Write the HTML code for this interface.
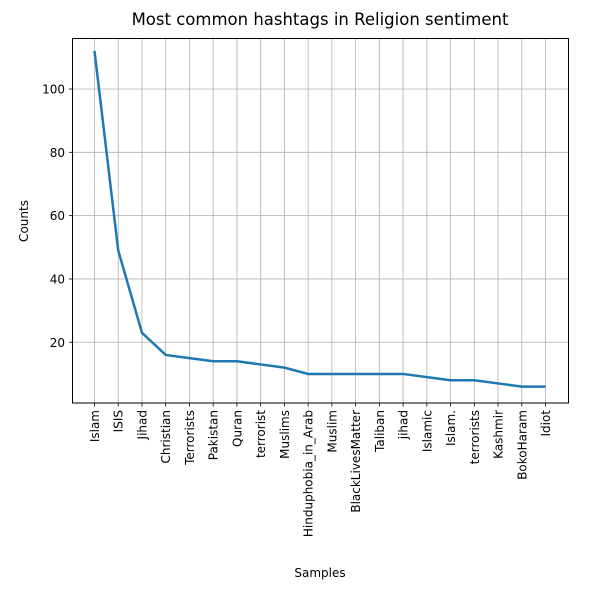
<!DOCTYPE html>
<html><head><meta charset="utf-8"><style>
body{margin:0;background:#fff;width:605px;height:585px;overflow:hidden}
text{font-family:"DejaVu Sans","Liberation Sans",sans-serif;fill:#000}
</style></head><body>
<svg id="chart" width="605" height="585">
<text x="320" y="25" font-size="16.5" text-anchor="middle">Most common hashtags in Religion sentiment</text>
<g id="grid"></g>
<g id="ticks"></g>
<polyline id="line" fill="none" stroke="#1f77b4" stroke-width="2.5"/>
<rect x="72.5" y="38.5" width="496" height="364.5" fill="none" stroke="#000" stroke-width="1"/>
<text x="320" y="577" font-size="12" text-anchor="middle">Samples</text>
<text transform="translate(28,221) rotate(-90)" font-size="12" text-anchor="middle">Counts</text>
</svg>
<script>
const categories=["Islam","ISIS","Jihad","Christian","Terrorists","Pakistan","Quran","terrorist","Muslims","Hinduphobia_in_Arab","Muslim","BlackLivesMatter","Taliban","jihad","Islamic","Islam.","terrorists","Kashmir","BokoHaram","Idiot"];
const counts=[112,49,23,16,15,14,14,13,12,10,10,10,10,10,9,8,8,7,6,6];
const yTicks=[20,40,60,80,100];
const NS="http://www.w3.org/2000/svg";
const x=i=>94.5+i*(545.5-94.5)/(categories.length-1);
const y=v=>405.6-v*3.166;
const grid=document.getElementById('grid'),ticks=document.getElementById('ticks');
function mk(t,a,p){const e=document.createElementNS(NS,t);for(const k in a)e.setAttribute(k,a[k]);p.appendChild(e);return e;}
categories.forEach((c,i)=>{
 const g=mk('line',{x1:x(i),x2:x(i),y1:38.5,y2:403,stroke:'#b0b0b0','stroke-width':0.8},grid);
 
 
 const t=mk('line',{x1:x(i),x2:x(i),y1:403,y2:406.5,stroke:'#000','stroke-width':0.8},ticks);
 
 
 const l=mk('text',{transform:`translate(${x(i)+4.5},410) rotate(-90)`,'font-size':12,'text-anchor':'end'},ticks);
 l.textContent=c;
 
 
});
yTicks.forEach(v=>{
 const g=mk('line',{x1:72.5,x2:568.5,y1:y(v),y2:y(v),stroke:'#b0b0b0','stroke-width':0.8},grid);
 
 
 const t=mk('line',{x1:69,x2:72.5,y1:y(v),y2:y(v),stroke:'#000','stroke-width':0.8},ticks);
 
 
 const l=mk('text',{x:65,y:y(v)+4.5,'font-size':12,'text-anchor':'end'},ticks);
 l.textContent=v;
 
 
});
document.getElementById('line').setAttribute('points',counts.map((v,i)=>x(i)+','+y(v)).join(' '));
</script>
</body></html>
